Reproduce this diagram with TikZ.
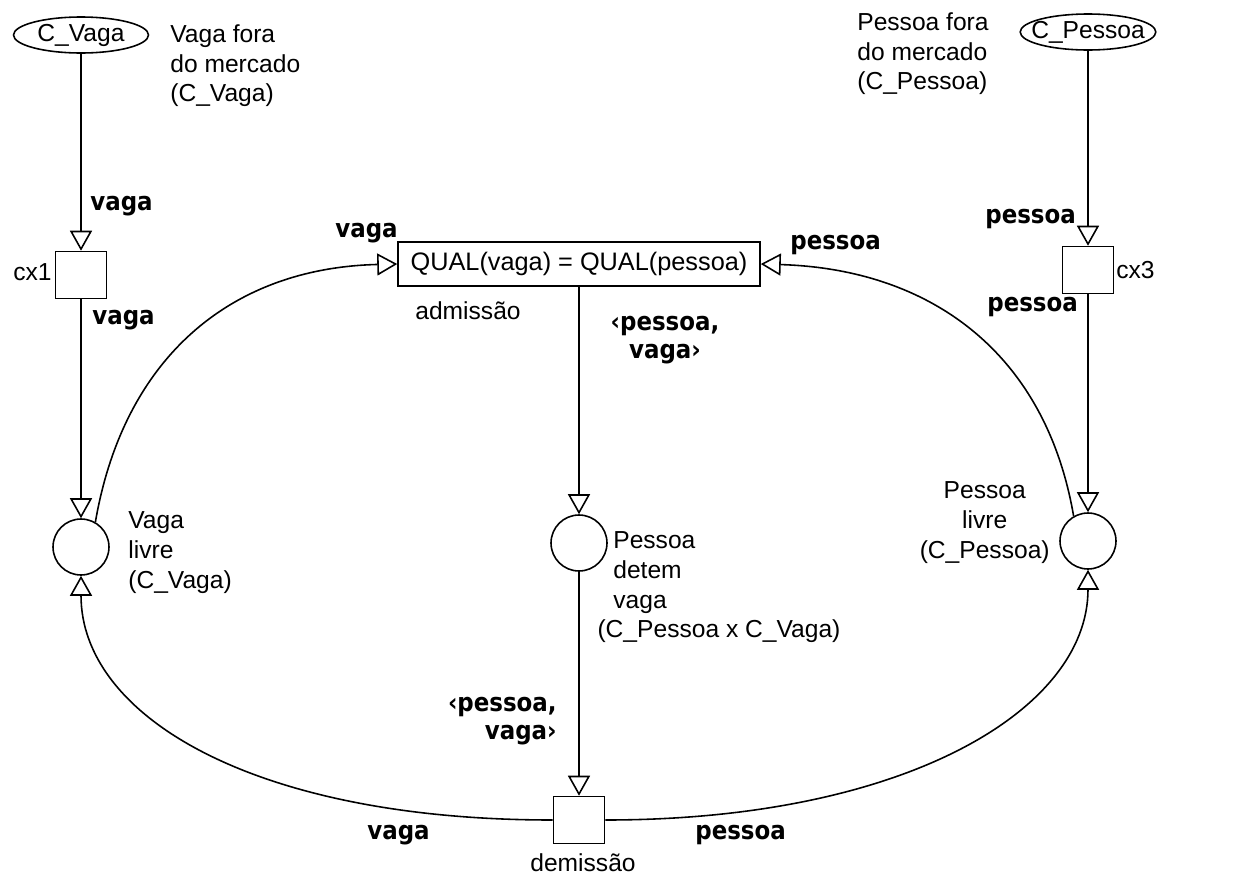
\documentclass[tikz,border=0pt]{standalone}
\usepackage{fontspec}
\setmainfont{Liberation Sans}
\newfontfamily\arcfont{DejaVu Sans}[FakeStretch=0.9]
\usetikzlibrary{arrows.meta,shapes.geometric,positioning}
\tikzset{
  place/.style={circle, draw, line width=0.9pt, minimum size=1.12cm, inner sep=0pt},
  trans/.style={rectangle, draw, line width=0.9pt, minimum width=1.02cm, minimum height=0.94cm, inner sep=0pt},
  colset/.style={ellipse, draw, line width=0.9pt, minimum width=2.7cm, minimum height=0.72cm,
                 inner xsep=-5pt, inner ysep=0pt, font=\fontsize{14}{17}\selectfont},
  guard/.style={rectangle, draw, line width=0.9pt, minimum width=7.24cm, minimum height=0.88cm, inner sep=0pt,
                font=\fontsize{14.4}{17}\selectfont},
  arc/.style={-{Triangle[open, length=0.4cm, width=0.44cm]}, line width=0.9pt},
  txt/.style={font=\fontsize{14}{17}\selectfont, inner sep=0pt, align=left},
  inscr/.style={font=\arcfont\bfseries\fontsize{14.5}{16}\selectfont, inner sep=0pt},
}
\begin{document}
\begin{tikzpicture}[x=0.02cm, y=-0.02cm]
\useasboundingbox (0,0) rectangle (1238,876);
\node[colset] (cvaga) at (81,35) {C\_Vaga};
\node[trans] (cx1) at (81,275) {};
\node[place] (vlivre) at (81,547) {};
\node[guard] (adm) at (579,264) {QUAL(vaga) = QUAL(pessoa)};
\node[place] (pdetem) at (579,543) {};
\node[trans] (dem) at (579,820) {};
\node[colset] (cpessoa) at (1088,32) {C\_Pessoa};
\node[trans] (cx3) at (1088,270) {};
\node[place] (plivre) at (1088,541) {};

\node[txt, anchor=north west] (vfora) at (170,24) {Vaga fora\\do mercado\\(C\_Vaga)};
\node[txt, anchor=north west] (pfora) at (857,12) {Pessoa fora\\do mercado\\(C\_Pessoa)};
\node[txt, anchor=east] (cx1lab) at (52,272) {cx1};
\node[txt, anchor=west] (cx3lab) at (1116,270) {cx3};
\node[txt, anchor=north west] (vlivrelab) at (128,511) {Vaga\\livre\\(C\_Vaga)};
\node[txt, anchor=north east, align=center] (plivrelab) at (1050,481) {Pessoa\\livre\\(C\_Pessoa)};
\node[txt, anchor=north west] (pdetemlab) at (613,531) {Pessoa\\detem\\vaga\\\hspace*{-9pt}(C\_Pessoa x C\_Vaga)};
\node[txt, anchor=base west] (admlab) at (415,319) {admissão};
\node[txt, anchor=base] (demlab) at (583,871) {demissão};

\node[inscr, anchor=west] (i1) at (90,206) {vaga};
\node[inscr, anchor=west] (i2) at (92,320) {vaga};
\node[inscr, anchor=west] (i3) at (985,219) {pessoa};
\node[inscr, anchor=west] (i4) at (987,307) {pessoa};
\node[inscr, anchor=west] (i5) at (335,233) {vaga};
\node[inscr, anchor=west] (i6) at (790,245) {pessoa};
\node[inscr, anchor=north, align=center] (i7) at (665,316) {‹pessoa,\\vaga›};
\node[inscr, anchor=south east, align=right] (i8) at (557,745) {‹pessoa,\\vaga›};
\node[inscr, anchor=west] (i9) at (367,835) {vaga};
\node[inscr, anchor=west] (i10) at (695,835) {pessoa};

\foreach \a/\b in {cvaga/cx1, cx1/vlivre, cpessoa/cx3, cx3/plivre, adm/pdetem, pdetem/dem}
  \draw[arc] (\a) -- (\b);
\draw[arc] (vlivre.60) .. controls +(28,-163) and +(-168,4) .. (adm.west);
\draw[arc] (plivre.120) .. controls +(-28,-163) and +(170,5) .. (adm.east);
\draw[arc] (dem.west) .. controls +(-300,0) and +(0,140) .. (vlivre.south);
\draw[arc] (dem.east) .. controls +(300,0) and +(0,140) .. (plivre.south);
\end{tikzpicture}
\end{document}
